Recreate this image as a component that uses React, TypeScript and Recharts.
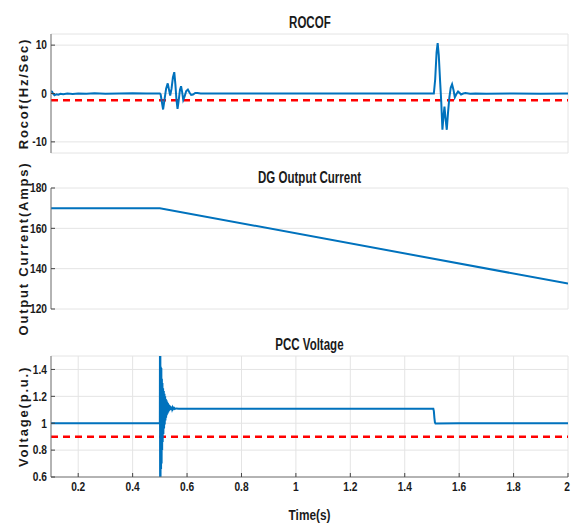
import { LineChart, Line, XAxis, YAxis, CartesianGrid, ReferenceLine } from 'recharts';

const W = 571;
const H = 524;

const SANS = "'Liberation Sans', Arial, sans-serif";

const xTicks = [0.2, 0.4, 0.6, 0.8, 1, 1.2, 1.4, 1.6, 1.8, 2];

// ROCOF (Hz/s) as [time, value]
const rocofPoints: [number, number][] = [
  [0.1, 0.5], [0.104, 0.35], [0.108, -0.1], [0.113, -0.35], [0.12, -0.15], [0.127, -0.25],
  [0.135, -0.05], [0.145, -0.15], [0.16, 0.0], [0.18, -0.1], [0.2, 0.0], [0.23, -0.05],
  [0.26, 0.05], [0.3, -0.05], [0.35, 0.0], [0.4, 0.05], [0.45, 0.0], [0.5, 0.0],
  [0.503, -0.2], [0.507, -1.6], [0.512, -3.3], [0.517, -1.3], [0.523, 1.0], [0.529, 2.1],
  [0.534, 0.7], [0.538, -0.4], [0.543, 1.0], [0.548, 3.3], [0.553, 4.4], [0.557, 2.0],
  [0.561, -1.2], [0.565, -3.2], [0.569, -1.6], [0.574, 0.8], [0.578, 1.5], [0.582, 0.3],
  [0.586, -1.3], [0.591, -0.6], [0.597, 0.5], [0.603, 0.8], [0.609, 0.2], [0.615, -0.3],
  [0.622, -0.2], [0.63, 0.1], [0.638, 0.1], [0.65, 0.0], [0.8, 0.0], [1.0, 0.0],
  [1.2, 0.0], [1.4, 0.0], [1.507, 0.0], [1.512, 3.0], [1.517, 8.5], [1.521, 10.4],
  [1.525, 8.0], [1.53, 2.5], [1.534, -1.5], [1.5385, -7.5], [1.542, -5.0], [1.546, -2.7],
  [1.55, -5.2], [1.5545, -7.5], [1.559, -4.0], [1.564, -0.8], [1.569, 1.2], [1.574, 1.9],
  [1.579, 0.8], [1.584, -0.8], [1.59, -0.1], [1.596, 0.4], [1.602, 0.1], [1.607, -0.2],
  [1.615, 0.0], [1.623, 0.1], [1.64, -0.05], [1.66, 0.0], [1.7, -0.05], [1.8, 0.0],
  [1.9, -0.05], [2.0, 0.0],
];

// DG output current (A)
const currentPoints: [number, number][] = [
  [0.1, 170], [0.5, 170], [2.0, 132.6],
];

// PCC voltage (p.u.)
const voltagePoints: [number, number][] = [
  [0.1, 1.0], [0.3, 1.0], [0.4995, 1.0], [0.5, 1.0], [0.5005, 1.62], [0.501, 0.52],
  [0.5018, 1.6], [0.5025, 0.58], [0.5035, 1.42], [0.5045, 0.66], [0.5055, 1.41], [0.5065, 0.7],
  [0.5075, 1.33], [0.5085, 0.8], [0.5095, 1.3], [0.5105, 0.86], [0.512, 1.26], [0.513, 0.92],
  [0.5145, 1.24], [0.5155, 0.96], [0.517, 1.22], [0.518, 0.99], [0.5195, 1.2], [0.5205, 1.02],
  [0.522, 1.18], [0.523, 1.04], [0.5245, 1.17], [0.5255, 1.06], [0.527, 1.16], [0.528, 1.07],
  [0.5295, 1.15], [0.5305, 1.08], [0.532, 1.14], [0.533, 1.09], [0.5345, 1.135], [0.5355, 1.095],
  [0.537, 1.13], [0.538, 1.1], [0.5395, 1.125], [0.541, 1.102], [0.543, 1.12], [0.545, 1.104],
  [0.547, 1.117], [0.549, 1.106], [0.552, 1.114], [0.555, 1.106], [0.56, 1.11], [0.57, 1.108],
  [1.0, 1.108], [1.505, 1.108], [1.507, 1.09], [1.509, 1.04], [1.511, 1.005], [1.513, 0.998],
  [1.6, 1.0], [2.0, 1.0],
];

const toRows = (pts: [number, number][]) => pts.map(([t, v]) => ({ t, v }));

const labelStyle = { fill: '#1a1a1a', fontSize: 13, fontWeight: 700, fontFamily: SANS, letterSpacing: 1.8 };

// condensed bold tick text (the source figure is squeezed horizontally)
function YTick({ x, y, payload }: any) {
  return (
    <g transform={`translate(${x},${y}) scale(0.85,1)`}>
      <text x={0} y={0} dy="0.36em" textAnchor="end" fill="#1a1a1a" fontSize={12} fontWeight={700} fontFamily={SANS}>
        {payload.value}
      </text>
    </g>
  );
}

function XTick({ x, y, payload }: any) {
  return (
    <g transform={`translate(${x},${y}) scale(0.85,1)`}>
      <text x={0} y={0} dy="0.71em" textAnchor="middle" fill="#1a1a1a" fontSize={12} fontWeight={700} fontFamily={SANS}>
        {payload.value}
      </text>
    </g>
  );
}

interface PanelProps {
  points: [number, number][];
  yDomain: [number, number];
  yTicks: number[];
  yLabel: string;
  threshold?: number;
  top: number;
  bottom: number;
  showTime?: boolean;
}

function Panel({ points, yDomain, yTicks, yLabel, threshold, top, bottom, showTime }: PanelProps) {
  return (
    <div style={{ position: 'absolute', left: 0, top: 0 }}>
      <LineChart width={W} height={H} margin={{ top, bottom, left: 0, right: 3 }}>
        <CartesianGrid stroke="#e4e4e4" />
        <XAxis
          type="number"
          dataKey="t"
          domain={[0.1, 2]}
          ticks={xTicks}
          allowDataOverflow
          height={showTime ? 30 : 0}
          tick={showTime ? <XTick /> : false}
          tickSize={-4}
          tickMargin={9}
          axisLine={{ stroke: '#777' }}
          tickLine={{ stroke: '#444' }}
        />
        <XAxis
          xAxisId="top"
          orientation="top"
          type="number"
          domain={[0.1, 2]}
          ticks={xTicks}
          allowDataOverflow
          height={0}
          tick={false}
          tickSize={-4}
          axisLine={{ stroke: '#777' }}
          tickLine={{ stroke: '#444' }}
        />
        <YAxis
          type="number"
          domain={yDomain}
          ticks={yTicks}
          allowDataOverflow
          width={51}
          tick={<YTick />}
          tickSize={-4}
          tickMargin={8}
          axisLine={{ stroke: '#777' }}
          tickLine={{ stroke: '#444' }}
          label={{ value: yLabel, angle: -90, position: 'center', dx: -2, ...labelStyle }}
        />
        <YAxis
          yAxisId="right"
          orientation="right"
          type="number"
          domain={yDomain}
          ticks={yTicks}
          allowDataOverflow
          width={0}
          tick={false}
          tickSize={-4}
          axisLine={{ stroke: '#777' }}
          tickLine={{ stroke: '#444' }}
        />
        {threshold !== undefined && (
          <ReferenceLine y={threshold} stroke="#ff0000" strokeWidth={2.5} strokeDasharray="7 5" />
        )}
        <Line
          data={toRows(points)}
          dataKey="v"
          type="linear"
          stroke="#0072BD"
          strokeWidth={2}
          dot={false}
          isAnimationActive={false}
        />
      </LineChart>
    </div>
  );
}

function Title({ text, center, size = 16, squeeze = 0.72 }: { text: string; center: number; size?: number; squeeze?: number }) {
  return (
    <div
      style={{
        position: 'absolute',
        left: 51,
        width: 517,
        top: center - 10,
        height: 20,
        lineHeight: '20px',
        textAlign: 'center',
        fontFamily: SANS,
        fontWeight: 700,
        fontSize: size,
        color: '#1a1a1a',
      }}
    >
      <span style={{ display: 'inline-block', transform: `scaleX(${squeeze})` }}>{text}</span>
    </div>
  );
}

export default function App() {
  return (
    <div style={{ position: 'absolute', left: 0, top: 0, width: W, height: H, background: '#fff', overflow: 'hidden' }}>
      <Title text="ROCOF" center={23} />
      <Title text="DG Output Current" center={178} />
      <Title text="PCC Voltage" center={345} />
      <Panel
        points={rocofPoints}
        yDomain={[-12.3, 12.3]}
        yTicks={[-10, 0, 10]}
        yLabel="Rocof(Hz/Sec)"
        threshold={-1.4}
        top={34}
        bottom={H - 153}
      />
      <Panel
        points={currentPoints}
        yDomain={[120, 180]}
        yTicks={[120, 140, 160, 180]}
        yLabel="Output Current(Amps)"
        top={188}
        bottom={H - 309}
      />
      <Panel
        points={voltagePoints}
        yDomain={[0.6, 1.5]}
        yTicks={[0.6, 0.8, 1, 1.2, 1.4]}
        yLabel="Voltage(p.u.)"
        threshold={0.9}
        top={356}
        bottom={17}
        showTime
      />
      <Title text="Time(s)" center={515} size={15} squeeze={0.79} />
    </div>
  );
}
